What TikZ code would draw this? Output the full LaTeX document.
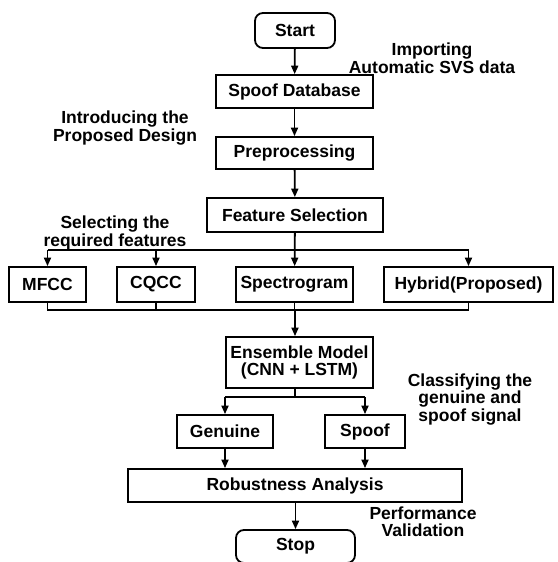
\documentclass[tikz,border=0pt]{standalone}
\usepackage{fontspec}
\setmainfont{Liberation Sans}
\usetikzlibrary{arrows.meta}
\begin{document}
\begin{tikzpicture}[x=1pt,y=-1pt,
  line width=1.8pt,
  txt/.style={font=\fontsize{17.5}{17.5}\selectfont\bfseries},
  box/.style={txt, draw, line width=1.8pt, inner sep=0pt, align=center},
  term/.style={box, rounded corners=8pt},
  note/.style={txt, inner sep=0pt, align=center},
  arr/.style={-{Triangle[length=8.5pt,width=7pt]}}]
\useasboundingbox (0,0) rectangle (557,562);

% main chain
\node[term, minimum width=80pt, minimum height=35pt] (start) at (295,30.5) {Start};
\node[box, minimum width=157pt, minimum height=33pt] (db) at (294.5,91.5) {Spoof Database};
\node[box, minimum width=157pt, minimum height=32pt] (pre) at (294.5,153) {Preprocessing};
\node[box, minimum width=176pt, minimum height=34pt] (fsel) at (295,215) {Feature Selection};

% feature extraction options
\node[box, minimum width=77pt, minimum height=35pt] (mfcc) at (47.5,284.5) {MFCC};
\node[box, minimum width=78pt, minimum height=35pt] (cqcc) at (156,284.5) {CQCC};
\node[box, minimum width=117pt, minimum height=35pt] (spec) at (294.5,284.5) {Spectrogram};
\node[box, minimum width=169pt, minimum height=35pt] (hyb) at (468.5,284.5) {Hybrid(Proposed)};

% classifier and outcomes
\node[box, minimum width=147pt, minimum height=51pt] (ens) at (299.5,362.5) {Ensemble Model\\(CNN + LSTM)};
\node[box, minimum width=96pt, minimum height=33pt] (gen) at (225,431.5) {Genuine};
\node[box, minimum width=80pt, minimum height=33pt] (spf) at (365,431.5) {Spoof};
\node[box, minimum width=334pt, minimum height=33pt] (rob) at (295,485.5) {Robustness Analysis};
\node[term, minimum width=119pt, minimum height=33pt] (stop) at (295.5,546.5) {Stop};

% side annotations
\node[note] (n1) at (432,58) {Importing\\Automatic SVS data};
\node[note] (n2) at (125,128) {Introducing the\\Proposed Design};
\node[note] (n3) at (115,233) {Selecting the\\required features};
\node[note] (n4) at (470,399.5) {Classifying the\\genuine and\\spoof signal};
\node[note] (n5) at (423,521.5) {Performance\\Validation};

% junction points
\coordinate (fork) at (295,250);
\coordinate (join) at (295,310);
\coordinate (split) at (295,397);

% connectors
\draw[arr] (start) -- (db);
\draw[arr] (db) -- (pre);
\draw[arr] (pre) -- (fsel);
\draw[arr] (fsel) -- (spec);
\draw (mfcc.north |- fork) -- (hyb.north |- fork);
\draw[arr] (mfcc.north |- fork) -- (mfcc.north);
\draw[arr] (cqcc.north |- fork) -- (cqcc.north);
\draw[arr] (hyb.north |- fork) -- (hyb.north);

\draw (mfcc.south) -- (mfcc.south |- join) -- (hyb.south |- join) -- (hyb.south);
\draw (cqcc.south) -- (cqcc.south |- join);
\draw (spec.south) -- (spec.south |- join);
\draw[arr] (join) -- (ens.north -| join);

\draw (split |- ens.south) -- (split);
\draw (gen.north |- split) -- (spf.north |- split);
\draw[arr] (gen.north |- split) -- (gen.north);
\draw[arr] (spf.north |- split) -- (spf.north);

\draw[arr] (gen.south) -- (rob.north -| gen.south);
\draw[arr] (spf.south) -- (rob.north -| spf.south);
\draw[arr] (rob.south -| stop.north) -- (stop.north);
\end{tikzpicture}
\end{document}
